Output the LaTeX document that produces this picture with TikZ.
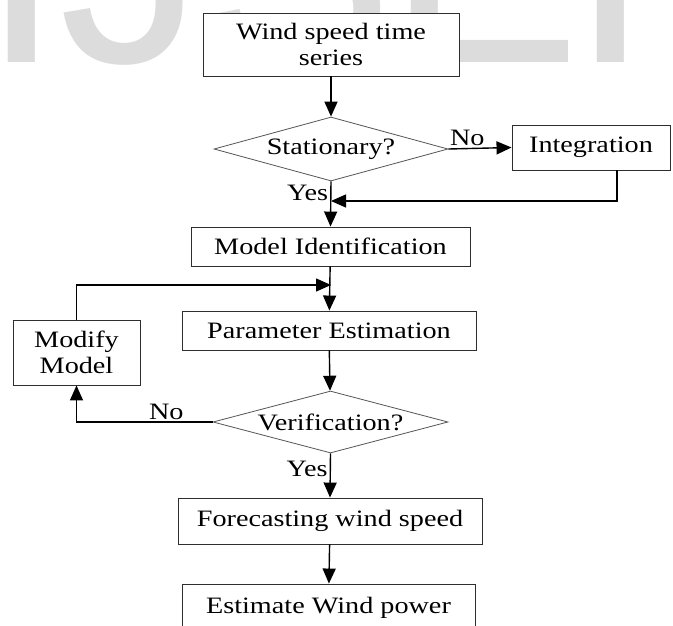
\documentclass[tikz,border=0pt]{standalone}
\usepackage{fontspec}
\setmainfont{Liberation Serif}[FakeStretch=1.2]
\newfontfamily\markfont{Liberation Sans}
\usepackage{xcolor}
\usepackage{tikz}
\usetikzlibrary{shapes.geometric,arrows.meta,positioning}
\definecolor{watermark}{HTML}{DCDCDC}
\definecolor{edgegray}{HTML}{2E2E2E}
\definecolor{diagray}{HTML}{555555}

\tikzset{
  procbox/.style={draw=edgegray,line width=0.9pt,fill=white,inner sep=0pt,align=center,
    font=\fontsize{23.5}{26}\selectfont},
  decide/.style={diamond,draw=diagray,line width=0.8pt,fill=white,inner sep=0pt,aspect=3.6,
    font=\fontsize{23.5}{26}\selectfont},
  flow/.style={line width=1.4pt,-{Triangle[length=15pt,width=13pt]}},
  lbl/.style={font=\fontsize{23.5}{26}\selectfont,inner sep=2pt},
  markletter/.style={text=watermark,anchor=base west,inner sep=0pt,font=\markfont\fontsize{290}{290}\selectfont}
}

\begin{document}
\begin{tikzpicture}[x=1pt,y=-1pt]
  \useasboundingbox (0,0) rectangle (673,625);
  \clip (0,0) rectangle (673,625);
  \fill[white] (0,0) rectangle (673,625);
  \node[markletter] (wmI) at (-19,62) {I};
  \node[markletter] (wmJ) at (59,62) {J};
  \node[markletter] (wmS) at (200,62) {S};
  \node[markletter] (wmE) at (387,62) {E};
  \node[markletter] (wmR) at (573,62) {R};

  \node[procbox,minimum width=256,minimum height=63] (series) at (331,44.5) {Wind speed time\\series};
  \node[decide,minimum width=234,minimum height=64] (stat) at (331,149) {Stationary?};
  \node[procbox,minimum width=158,minimum height=45] (integ) at (591,147.5) {Integration};
  \node[procbox,minimum width=279,minimum height=39] (modid) at (330.5,246.5) {Model Identification};
  \node[procbox,minimum width=294,minimum height=39] (param) at (329,330.5) {Parameter Estimation};
  \node[procbox,minimum width=127,minimum height=65] (modify) at (76.5,352.5) {Modify\\Model};
  \node[decide,minimum width=235,minimum height=62] (verif) at (330.5,422) {Verification?};
  \node[procbox,minimum width=304,minimum height=46] (fore) at (330,521) {Forecasting wind speed};
  \node[procbox,minimum width=293,minimum height=48] (est) at (328.5,608) {Estimate Wind power};

  \coordinate (ret) at (617,201);
  \coordinate (join1) at (331,201);
  \coordinate (join2) at (331,285);

  \draw[flow] (series) -- (stat);
  \draw[flow] (stat.east) -- node[lbl,pos=0.3,above]{No} (integ.west);
  \draw[flow] (integ.south -| ret) -- (ret) -- (join1);
  \draw[flow] (stat.south) -- node[lbl,pos=0.25,left]{Yes} (modid.north);
  \draw[flow] (modid) -- (param);
  \draw[flow] (modify.north) |- (join2);
  \draw[flow] (param) -- (verif);
  \draw[flow] (verif.west) -- node[lbl,pos=0.34,above]{No} (verif.west -| modify.south) -- (modify.south);
  \draw[flow] (verif.south) -- node[lbl,pos=0.36,left]{Yes} (fore.north);
  \draw[flow] (fore) -- (est);
\end{tikzpicture}
\end{document}
